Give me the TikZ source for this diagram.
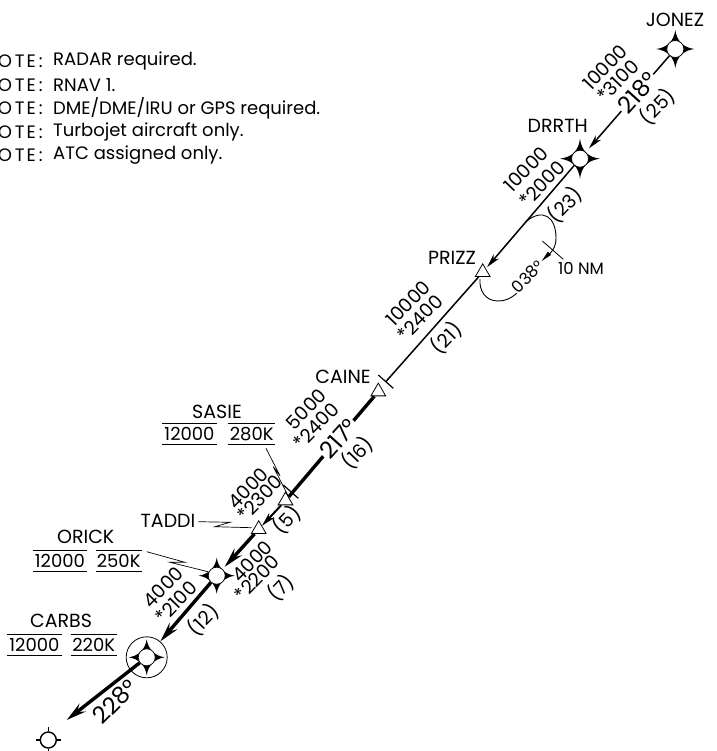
\documentclass[tikz,border=0pt]{standalone}
\usepackage{fontspec}
\setmainfont{Poppins}
\usetikzlibrary{arrows.meta,shapes.geometric}
\newcommand{\wstar}[3][20]{%
  \fill[shift={(#2,#3)}] (0,-#1) .. controls (1.5,-8) and (8,-1.5) .. (#1,0)
    .. controls (8,1.5) and (1.5,8) .. (0,#1)
    .. controls (-1.5,8) and (-8,1.5) .. (-#1,0)
    .. controls (-8,-1.5) and (-1.5,-8) .. (0,-#1) -- cycle;}
\newcommand{\otelbl}{O\kern3pt T\kern2pt E\kern3pt :}
\tikzset{
  x=1pt,y=-1pt,
  txt/.style={font=\fontsize{18}{18}\selectfont,inner sep=0pt,text=black},
  fixlabel/.style={font=\fontsize{19}{19}\selectfont,inner sep=0pt,text=black},
  smalltxt/.style={font=\fontsize{16.5}{17}\selectfont,inner sep=0pt},
  rot/.style={font=\fontsize{19}{19}\selectfont,inner sep=0pt,rotate=46},
  gaplabel/.style={font=\fontsize{23.5}{24}\selectfont,rotate=48,fill=white,inner xsep=1.5pt,inner ysep=0pt},
  wp/.style={circle,draw,fill=white,line width=0.7pt,minimum size=17pt,inner sep=0pt},
  tri/.style={regular polygon,regular polygon sides=3,draw,fill=white,line width=0.8pt,minimum size=17pt,inner sep=0pt},
  ring/.style={circle,draw,fill=white,line width=0.8pt,minimum size=41pt,inner sep=0pt},
  thin route/.style={line width=1.5pt},
  thick route/.style={line width=3.4pt},
  head/.style={-{Stealth[length=20pt,width=10pt,inset=7pt]}},
  headthin/.style={-{Stealth[length=14pt,width=7pt,inset=4pt]}},
  rule/.style={line width=0.9pt},
  leader/.style={line width=0.7pt},
}
\begin{document}
\begin{tikzpicture}
\useasboundingbox (0,0) rectangle (716,751);
% notes
\foreach \yy/\tt in {61/{RADAR required.},85/{RNAV 1.},108/{DME/DME/IRU or GPS required.},132/{Turbojet aircraft only.},155/{ATC assigned only.}}{
  \node[txt,anchor=east] at (43,\yy) {\otelbl};
  \node[txt,anchor=west] at (53,\yy) {\tt};
}
% fixes
\node[ring] (carbsring) at (146.7,657.3) {};
\wstar[19]{675.3}{49}\node[wp] (jonez) at (675.3,49) {};
\wstar[20]{580}{158.7}\node[wp] (drrth) at (580,158.7) {};
\wstar[18]{216.7}{575.7}\node[wp] (orick) at (216.7,575.7) {};
\wstar[18]{146.7}{657.3}\node[wp] (carbs) at (146.7,657.3) {};
\node[wp,minimum size=16pt,line width=1.4pt] (end) at (48.3,740) {};
\draw[line width=1.4pt] (end.north) -- ++(0,-4) (end.south) -- ++(0,4) (end.east) -- ++(4,0) (end.west) -- ++(-4,0);
\node[tri] (prizz) at (482.7,272.3) {};
\node[tri] (caine) at (378.3,391.6) {};
\node[tri] (sasie) at (285.5,500.6) {};
\node[tri] (taddi) at (258.7,529.3) {};
% routes
\draw[thin route,headthin,shorten >=5pt] (jonez) -- (drrth)
  node[gaplabel,pos=0.385] (c218) {218°};
\draw[thin route,headthin,shorten >=2pt] (drrth) -- (prizz);
\coordinate (cainebar) at (385.8,381.7);
\draw[thin route] (prizz) -- (cainebar);
\draw[line width=1.2pt] (378.3,375) -- (393.3,388.3);
\draw[thick route] (caine) -- (sasie) node[gaplabel,pos=0.42] (c217) {217°};
\draw[line width=1.2pt] (283.3,485) -- (298.3,498.3);
\draw[line width=2pt,headthin] (sasie) -- (taddi);
\draw[thick route,head,shorten >=3pt] (taddi) -- (orick);
\draw[thick route,head] (orick) -- (carbsring);
\coordinate (tip) at (66.7,720);
\draw[thick route,head] (carbs) -- (tip);
\node[circle,fill=white,minimum size=13pt,inner sep=0pt] at (146.7,657.3) {};
% holding
\draw[line width=0.9pt] (526,221.7) .. controls (542,208) and (556,216) .. (556,238)
  .. controls (556,248) and (551,253) .. (546.7,256.7);
\fill (541.7,261) -- (548,251.5) -- (551,255) -- cycle;
\draw[line width=0.9pt] (516.7,293.3) .. controls (510,299) and (505,301) .. (498,301)
  .. controls (485,301) and (479,290) .. (480,279);
\draw[line width=0.8pt] (542.3,241) -- (563.3,259.3);
\node[smalltxt,rotate=45] (h038) at (527.7,276.7) {038°};
\node[smalltxt] (nm) at (581,268) {10 NM};
% leaders
\draw[leader] (266,448.3) -- (280,475.7) -- (273.3,466.7) -- (287.7,495);
\draw[leader] (198.3,521.7) -- (230,522.3) -- (215,526.7) -- (251.7,527.7);
\draw[leader] (146.7,551.7) -- (185,562.3) -- (170,562.3) -- (208,571.7);
% names
\node[fixlabel] (n1) at (675,20) {JONEZ};
\node[fixlabel] (n2) at (557.7,125.7) {DRRTH};
\node[fixlabel] (n3) at (452,258) {PRIZZ};
\node[fixlabel] (n4) at (343,376.7) {CAINE};
\node[fixlabel] (n5) at (217,411.7) {SASIE};
\node[fixlabel] (n6) at (168,520.7) {TADDI};
\node[fixlabel] (n7) at (85.7,537) {ORICK};
\node[fixlabel] (n8) at (61,621) {CARBS};
% restrictions
\node[txt] at (189.5,434) {12000};
\node[txt] at (251.7,434) {280K};
\draw[rule] (162.3,423.3) -- (216.7,423.3) (162.3,444.3) -- (216.7,444.3)
  (228.3,423.3) -- (275,423.3) (228.3,444.3) -- (275,444.3);
\node[txt] at (60,561) {12000};
\node[txt] at (118.7,561) {250K};
\draw[rule] (32.7,550.7) -- (87.3,550.7) (32.7,571.7) -- (87.3,571.7)
  (95.7,550.7) -- (141.7,550.7) (95.7,571.7) -- (141.7,571.7);
\node[txt] at (34.5,645) {12000};
\node[txt] at (93.7,645) {220K};
\draw[rule] (7.3,634.3) -- (61.7,634.3) (7.3,655.7) -- (61.7,655.7)
  (70.7,634.3) -- (116.7,634.3) (70.7,655.7) -- (116.7,655.7);
% altitudes
\node[rot] at (605,67) {10000};
\node[rot] at (618,81) {*3100};
\node[rot] at (657.5,106.7) {(25)};
\node[rot] at (526,169) {10000};
\node[rot] at (542,184) {*2000};
\node[rot] at (565,205) {(23)};
\node[rot] at (408,303) {10000};
\node[rot] at (420,318) {*2400};
\node[rot] at (446.7,338) {(21)};
\node[rot] at (306,409) {5000};
\node[rot] at (316,426) {*2400};
\node[rot] at (357.5,453) {(16)};
\node[rot] at (248,488) {4000};
\node[rot] at (260,498) {*2300};
\node[rot] at (287,520) {(5)};
\node[rot] at (252,561) {4000};
\node[rot] at (257,578) {*2200};
\node[rot] at (281,588) {(7)};
\node[rot] at (163,587) {4000};
\node[rot] at (176,602) {*2100};
\node[rot] at (203.5,620) {(12)};
\node[font=\fontsize{23.5}{24}\selectfont,rotate=45,inner sep=0pt] at (115,701.7) {228°};
\end{tikzpicture}
\end{document}
